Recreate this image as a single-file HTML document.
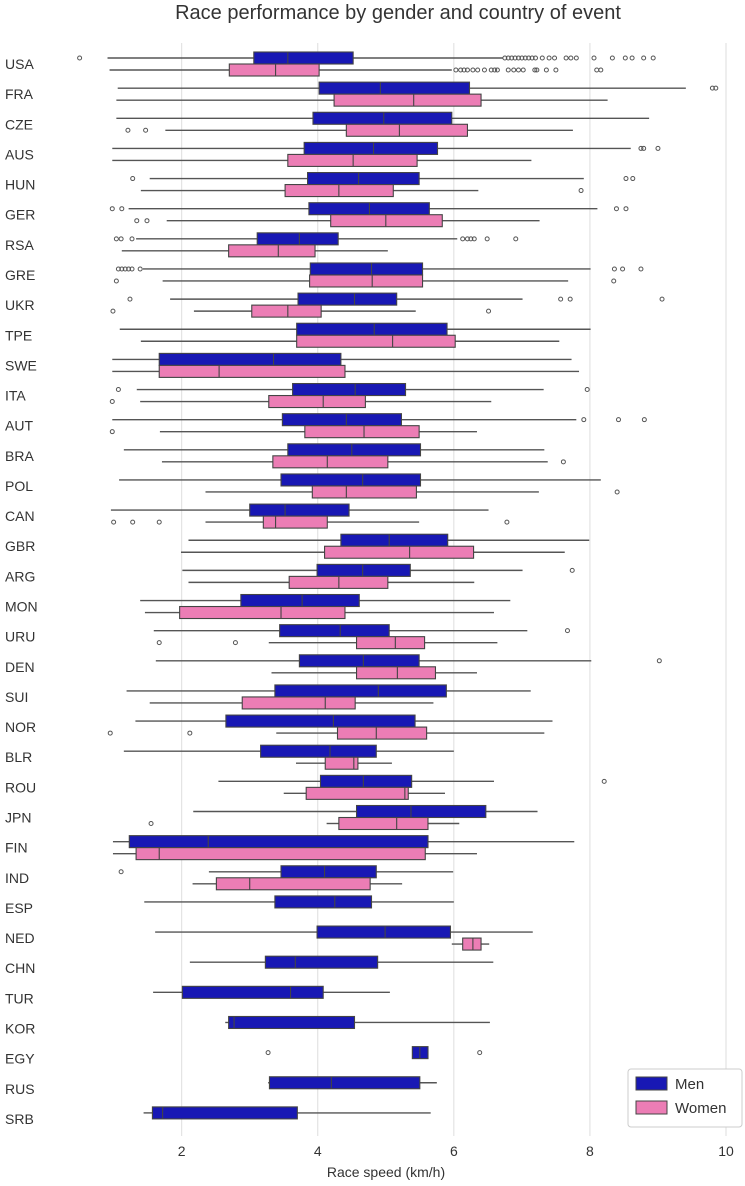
<!DOCTYPE html>
<html><head><meta charset="utf-8"><style>
body{margin:0;background:#fff;}
svg text{font-family:"Liberation Sans","DejaVu Sans",sans-serif;fill:#333;}
</style></head><body>
<svg id="chart" width="745" height="1181" viewBox="0 0 745 1181" xmlns="http://www.w3.org/2000/svg">
<text x="398" y="19" font-size="20" text-anchor="middle">Race performance by gender and country of event</text>
<g id="grid"></g>
<g id="boxes"></g>
<g id="yax"></g>
<g id="xax"></g>
<text x="386" y="1177" font-size="14" text-anchor="middle">Race speed (km/h)</text>
<g>
<rect x="628" y="1069" width="114" height="58" rx="3" fill="#fff" stroke="#ccc"/>
<g><rect x="636" y="1077" width="31" height="13" fill="#1818b4" stroke="#444"/><text x="675" y="1089" font-size="15">Men</text></g>
<g><rect x="636" y="1101" width="31" height="13" fill="#ec7db5" stroke="#444"/><text x="675" y="1113" font-size="15">Women</text></g>
</g>
</svg>
<script>
const countries=["USA","FRA","CZE","AUS","HUN","GER","RSA","GRE","UKR","TPE","SWE","ITA","AUT","BRA","POL","CAN","GBR","ARG","MON","URU","DEN","SUI","NOR","BLR","ROU","JPN","FIN","IND","ESP","NED","CHN","TUR","KOR","EGY","RUS","SRB"];
const menStats=[[0.91,3.06,3.56,4.52,6.72],[1.06,4.02,4.92,6.23,9.41],[1.04,3.93,4.97,5.97,8.87],[0.98,3.8,4.82,5.76,8.6],[1.53,3.85,4.6,5.49,7.91],[1.22,3.87,4.76,5.64,8.11],[1.33,3.11,3.73,4.3,6.05],[1.43,3.89,4.79,5.54,8.01],[1.83,3.71,4.54,5.16,7.01],[1.09,3.69,4.83,5.9,8.01],[0.98,1.67,3.35,4.34,7.73],[1.34,3.63,4.55,5.29,7.32],[0.98,3.48,4.42,5.23,7.8],[1.15,3.56,4.5,5.51,7.33],[1.08,3.46,4.66,5.51,8.16],[0.96,3.0,3.52,4.46,6.51],[2.1,4.34,5.05,5.91,7.99],[2.01,3.99,4.66,5.36,7.01],[1.39,2.87,3.77,4.61,6.83],[1.59,3.44,4.33,5.05,7.08],[1.62,3.73,4.67,5.49,8.02],[1.19,3.37,4.89,5.89,7.13],[1.32,2.65,4.23,5.43,7.45],[1.15,3.16,4.18,4.86,6.0],[2.54,4.04,4.67,5.38,6.59],[2.17,4.57,5.37,6.47,7.23],[0.99,1.23,2.39,5.62,7.77],[2.4,3.46,4.1,4.86,5.99],[1.45,3.37,4.25,4.79,6.0],[1.61,3.99,4.99,5.95,7.16],[2.12,3.23,3.67,4.88,6.58],[1.58,2.01,3.6,4.08,5.06],[2.64,2.69,2.77,4.54,6.53],[5.39,5.39,5.5,5.62,5.62],[3.27,3.29,4.2,5.5,5.75],[1.44,1.57,1.72,3.7,5.66]];
const womenStats=[[0.94,2.7,3.38,4.02,5.97],[1.04,4.24,5.41,6.4,8.26],[1.76,4.42,5.2,6.2,7.75],[0.98,3.56,4.52,5.46,7.14],[1.4,3.52,4.31,5.11,6.36],[1.78,4.19,5.0,5.83,7.26],[1.12,2.69,3.42,3.96,5.03],[1.72,3.88,4.8,5.54,7.68],[2.18,3.03,3.56,4.05,5.44],[1.4,3.69,5.1,6.02,7.55],[0.98,1.67,2.55,4.4,7.84],[1.39,3.28,4.08,4.7,6.55],[1.68,3.81,4.68,5.49,6.34],[1.71,3.34,4.14,5.03,7.38],[2.35,3.92,4.42,5.45,7.25],[2.35,3.2,3.38,4.14,5.49],[1.99,4.1,5.35,6.29,7.63],[2.1,3.58,4.31,5.03,6.3],[1.46,1.97,3.46,4.4,6.59],[3.28,4.57,5.14,5.57,6.64],[3.32,4.57,5.17,5.73,6.34],[1.53,2.89,4.11,4.55,5.7],[3.39,4.29,4.86,5.6,7.33],[3.68,4.11,4.53,4.59,5.09],[3.5,3.83,5.28,5.33,5.87],[4.13,4.31,5.16,5.62,6.08],[0.99,1.33,1.67,5.58,6.34],[2.16,2.51,3.0,4.77,5.24],null,[5.97,6.13,6.28,6.4,6.52],null,null,null,null,null,null];
const menOut=[[0.5,6.75,6.8,6.85,6.9,6.95,7.0,7.05,7.1,7.15,7.2,7.3,7.4,7.48,7.65,7.72,7.8,8.06,8.33,8.52,8.62,8.79,8.93],[9.8,9.85],[],[8.75,8.79,9.0],[1.28,8.53,8.63],[0.98,1.12,8.39,8.53],[1.04,1.11,1.27,6.13,6.2,6.25,6.3,6.49,6.91],[1.07,1.12,1.17,1.22,1.27,1.39,8.36,8.48,8.75],[1.24,7.57,7.71,9.06],[],[],[1.07,7.96],[7.91,8.42,8.8],[],[],[],[],[7.74],[],[7.67],[9.02],[],[],[],[8.21],[],[],[1.11],[],[],[],[],[],[3.27,6.38],[],[]];
const womenOut=[[6.03,6.1,6.15,6.2,6.28,6.35,6.45,6.55,6.6,6.64,6.8,6.88,6.95,7.02,7.19,7.22,7.36,7.5,8.1,8.16],[],[1.21,1.47],[],[7.87],[1.34,1.49],[],[1.04,8.35],[0.99,6.51],[],[],[0.98],[0.98],[7.61],[8.4],[1.0,1.28,1.67,6.78],[],[],[],[1.67,2.79],[],[],[0.95,2.12],[],[],[1.55],[],[],[],[],[],[],[],[],[],[]];
const xTicks=[2,4,6,8,10];

const NS="http://www.w3.org/2000/svg";
const X=v=>45.6+68.04*v;
const ROW0=64, STEP=30.14, BH=12;
const rowC=i=>ROW0+STEP*i;
function mk(tag,attrs,parent){const e=document.createElementNS(NS,tag);for(const k in attrs)e.setAttribute(k,attrs[k]);parent.appendChild(e);return e;}
const grid=document.getElementById('grid'),boxes=document.getElementById('boxes'),yax=document.getElementById('yax'),xax=document.getElementById('xax');
xTicks.forEach(t=>{
  const l=mk('line',{x1:X(t),x2:X(t),y1:43,y2:1136,stroke:'#dedede','stroke-width':1},grid);
  
  
  const tx=mk('text',{x:X(t),y:1156,'font-size':14,'text-anchor':'middle'},xax);
  tx.textContent=t;
  
  
});
function drawBox(s,outs,c,top,fill,name){
  const g=mk('g',{},boxes);
  
  
  const y0=top?c-BH:c, wy=top?c-BH/2:c+BH/2;
  if(s){
    mk('line',{x1:X(s[0]),x2:X(s[1]),y1:wy,y2:wy,stroke:'#555','stroke-width':1.4},g);
    mk('line',{x1:X(s[3]),x2:X(s[4]),y1:wy,y2:wy,stroke:'#555','stroke-width':1.4},g);
    mk('rect',{x:X(s[1]),y:y0,width:Math.max(X(s[3])-X(s[1]),1),height:BH,fill:fill,stroke:'#444','stroke-width':1.1},g);
    mk('line',{x1:X(s[2]),x2:X(s[2]),y1:y0,y2:y0+BH,stroke:'#444','stroke-width':1.1},g);
  }
  outs.forEach(o=>{mk('circle',{cx:X(o),cy:wy,r:2,fill:'none',stroke:'#555','stroke-width':1},g);});
}
countries.forEach((cn,i)=>{
  const c=rowC(i);
  const t=mk('text',{x:5,y:c+5,'font-size':14},yax);
  t.textContent=cn;
  
  
  drawBox(menStats[i],menOut[i],c,true,'#1818b4','box-men-'+cn.toLowerCase());
  if(womenStats[i]||womenOut[i].length) drawBox(womenStats[i],womenOut[i],c,false,'#ec7db5','box-women-'+cn.toLowerCase());
});
</script>
</body></html>
